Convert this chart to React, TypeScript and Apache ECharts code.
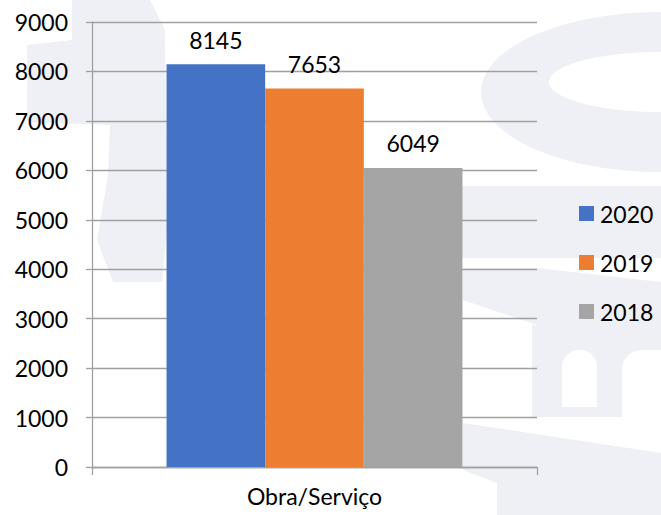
import React, { useEffect, useRef } from "react";
import * as echarts from "echarts";

const categories = ["Obra/Serviço"];
const seriesNames = ["2020", "2019", "2018"];
const values2020 = [8145];
const values2019 = [7653];
const values2018 = [6049];
const seriesColors = ["#4472C4", "#ED7D31", "#A5A5A5"];
const yMin = 0;
const yMax = 9000;
const yInterval = 1000;

const WM = "#EFF0F6";
const FONT = "Lato";

export default function App() {
  const ref = useRef<HTMLDivElement>(null);
  useEffect(() => {
    if (!ref.current) return;
    const chart = echarts.init(ref.current, undefined, { renderer: "svg" });
    const seriesData = [values2020, values2019, values2018];
    const wmStyle = { fill: WM };
    chart.setOption({
      animation: false,
      backgroundColor: "#ffffff",
      textStyle: { fontFamily: FONT },
      graphic: {
        elements: [
          {
            type: "group",
            z: -10,
            silent: true,
            children: [
              {
                type: "polygon",
                shape: {
                  points: [
                    [72, 0], [150, 0], [165, 30], [167, 230], [162, 282], [113, 282],
                    [97, 240], [108, 175], [110, 125], [27, 122], [27, 45], [72, 40],
                  ],
                },
                style: wmStyle,
              },
              { type: "ellipse", shape: { cx: 661, cy: 92, rx: 180, ry: 80 }, style: wmStyle },
              { type: "ellipse", shape: { cx: 661, cy: 82, rx: 112, ry: 30 }, style: { fill: "#ffffff" } },
              { type: "rect", shape: { x: 440, y: 0, width: 221, height: 10 }, style: { fill: "#ffffff" } },
              { type: "rect", shape: { x: 440, y: 186, width: 221, height: 72 }, style: wmStyle },
              {
                type: "polygon",
                shape: { points: [[463, 268], [537, 268], [661, 282], [661, 325], [537, 325], [463, 300]] },
                style: wmStyle,
              },
              { type: "rect", shape: { x: 532, y: 325, width: 129, height: 92 }, style: wmStyle },
              {
                type: "rect",
                shape: { x: 562, y: 350, width: 35, height: 57, r: [17, 17, 0, 0] },
                style: { fill: "#ffffff" },
              },
              {
                type: "rect",
                shape: { x: 622, y: 350, width: 45, height: 70, r: [20, 0, 0, 0] },
                style: { fill: "#ffffff" },
              },
              {
                type: "polygon",
                shape: { points: [[463, 423], [661, 453], [661, 515], [497, 515], [497, 483], [463, 470]] },
                style: wmStyle,
              },
            ],
          },
        ],
      },
      grid: { left: 92, right: 124, top: 22, bottom: 48, containLabel: false },
      legend: {
        orient: "vertical",
        left: 579,
        top: 202,
        itemWidth: 15,
        itemHeight: 15,
        itemGap: 26,
        padding: 0,
        icon: "rect",
        textStyle: { fontSize: 23, color: "#000", fontFamily: FONT, padding: [0, 0, 0, 1] },
        data: seriesNames,
      },
      xAxis: {
        type: "category",
        data: categories,
        boundaryGap: true,
        axisLine: { show: true, lineStyle: { color: "#A0A0A0", width: 1.3 } },
        axisTick: { show: true, length: 8, alignWithLabel: false, lineStyle: { color: "#A0A0A0", width: 1.3 } },
        axisLabel: { fontSize: 23, color: "#000", fontFamily: FONT, margin: 17 },
      },
      yAxis: {
        type: "value",
        min: yMin,
        max: yMax,
        interval: yInterval,
        axisLine: { show: true, lineStyle: { color: "#A0A0A0", width: 1.3 } },
        axisTick: { show: true, length: 6, inside: false, lineStyle: { color: "#A0A0A0", width: 1.3 } },
        axisLabel: {
          fontSize: 23,
          color: "#000",
          fontFamily: FONT,
          margin: 24,
          formatter: (v: number) => String(v),
        },
        splitLine: { show: true, lineStyle: { color: "#A0A0A0", width: 1.3 } },
      },
      series: seriesNames.map((name, i) => ({
        name,
        type: "bar",
        data: seriesData[i],
        itemStyle: { color: seriesColors[i] },
        barGap: "0%",
        barCategoryGap: "33.5%",
        label: {
          show: true,
          position: "top",
          distance: 13,
          fontSize: 23,
          color: "#000",
          fontFamily: FONT,
        },
      })),
    });
    return () => chart.dispose();
  }, []);
  return <div ref={ref} style={{ width: 661, height: 515, position: "absolute", left: 0, top: 0 }} />;
}
